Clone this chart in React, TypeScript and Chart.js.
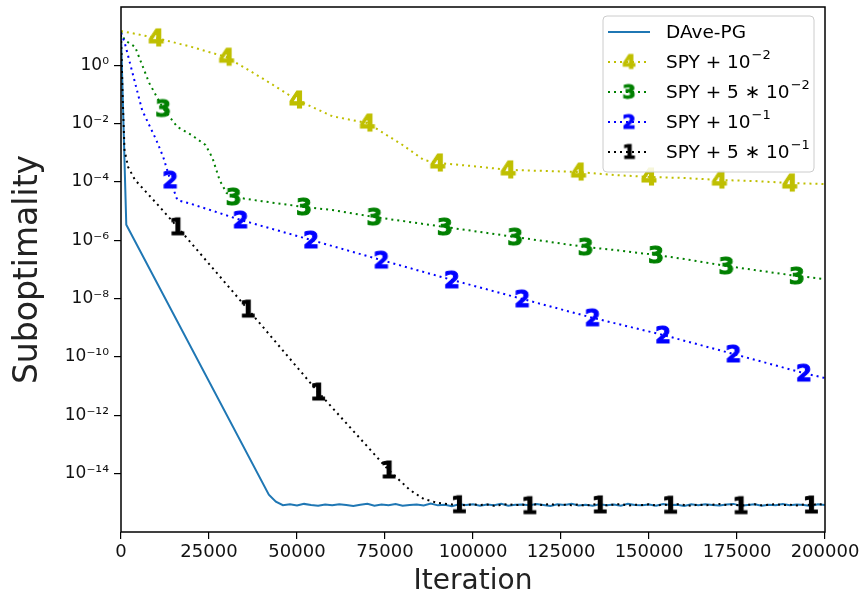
import React, { useEffect, useRef } from "react";
import { Chart, registerables } from "chart.js";
Chart.register(...registerables);

// ---------- data ----------
const xTicks = [0, 25000, 50000, 75000, 100000, 125000, 150000, 175000, 200000];
const yTickExps = [-14, -12, -10, -8, -6, -4, -2, 0];

const legendBase = ["DAve-PG", "SPY + 10", "SPY + 5 \u2217 10", "SPY + 10", "SPY + 5 \u2217 10"];
const legendSup = ["", "\u22122", "\u22122", "\u22121", "\u22121"];
const markerDigits = ["", "4", "3", "2", "1"];
const seriesColors = ["#1f77b4", "#bfbf00", "#008000", "#0000ff", "#000000"];

// DAve-PG
const daveIter = [0, 1500, 42000, 44000];
const daveVal = [11, 3.4e-6, 1.9e-15, 1.1e-15];
const daveFloorStart = 46000;
const floorStep = 2000;
const daveFloorE16 = [
  8.3, 8.9, 8.1, 9.2, 8.4, 7.9, 8.8, 8.2, 9.0, 8.5,
  7.8, 8.6, 9.3, 8.0, 8.7, 8.3, 9.1, 7.9, 8.5, 8.8,
  8.1, 9.4, 8.2, 8.6, 7.7, 8.9, 8.4, 9.0, 8.0, 8.7,
  8.3, 9.2, 7.9, 8.6, 8.8, 8.2, 9.1, 8.4, 7.8, 8.9,
  8.5, 9.3, 8.1, 8.6, 8.0, 9.0, 8.3, 8.7, 7.9, 9.2,
  8.5, 8.2, 8.8, 8.0, 9.1, 8.4, 8.6, 7.8, 8.9, 8.3,
  9.0, 8.5, 8.1, 8.7, 9.2, 8.0, 8.4, 8.9, 7.9, 8.6,
  8.3, 9.1, 8.2, 8.8, 8.5, 7.8, 9.0, 8.4,
];

// SPY + 1e-2  (marker "4")
const yelIter = [0, 10000, 20000, 30000, 40000, 50000, 60000, 70000, 80000, 86000, 90000,
  100000, 110000, 120000, 130000, 140000, 150000, 160000, 170000, 180000, 190000, 200000];
const yelVal = [15, 8.7, 4.3, 1.9, 0.37, 0.065, 0.018, 0.0105, 1.86e-3, 5.7e-4, 4.5e-4,
  3.5e-4, 2.6e-4, 2.4e-4, 2.2e-4, 1.74e-4, 1.49e-4, 1.37e-4, 1.17e-4, 1.08e-4, 9.2e-5, 8.5e-5];
const yelMarks = [10000, 30000, 50000, 70000, 90000, 110000, 130000, 150000, 170000, 190000];

// SPY + 5e-2 (marker "3")
const grnIter = [0, 1000, 4000, 8000, 12000, 16000, 20000, 24000, 26000, 28000, 30000, 32000,
  40000, 52000, 60000, 72000, 80000, 92000, 100000, 112000, 120000, 132000, 140000,
  152000, 160000, 172000, 180000, 192000, 200000];
const grnVal = [13.9, 7.4, 4.3, 0.25, 0.033, 7.7e-3, 4.1e-3, 1.86e-3, 6.6e-4, 1.17e-4, 4.2e-5, 3.06e-5,
  2.2e-5, 1.39e-5, 1.1e-5, 6.3e-6, 4.6e-6, 2.87e-6, 2.1e-6, 1.3e-6, 9.5e-7, 5.9e-7, 4.7e-7,
  3.15e-7, 2.3e-7, 1.32e-7, 9.6e-8, 6.0e-8, 4.7e-8];
const grnMarks = [12000, 32000, 52000, 72000, 92000, 112000, 132000, 152000, 172000, 192000];

// SPY + 1e-1 (marker "2")
const bluIter = [0, 1000, 4000, 6000, 10000, 12000, 14000, 16000, 20000, 34000, 54000, 74000,
  94000, 114000, 134000, 154000, 174000, 194000, 200000];
const bluVal = [12.9, 6.3, 0.25, 0.029, 2.8e-3, 7.2e-4, 1.17e-4, 2.4e-5, 1.77e-5, 5.0e-6, 1.03e-6,
  2.1e-7, 4.4e-8, 9.8e-9, 2.2e-9, 5.7e-10, 1.27e-10, 2.8e-11, 1.9e-11];
const bluMarks = [14000, 34000, 54000, 74000, 94000, 114000, 134000, 154000, 174000, 194000];

// SPY + 5e-1 (marker "1")
const blkIter = [0, 500, 1000, 2000, 4000, 10000, 16000, 36000, 56000, 76000, 82000, 86000, 90000, 94000];
const blkVal = [11, 0.065, 1.25e-3, 3.3e-4, 1.17e-4, 1.9e-5, 2.9e-6, 4.4e-9, 6.3e-12, 1.34e-14,
  2.8e-15, 1.36e-15, 9.9e-16, 8.8e-16];
const blkFloorStart = 96000;
const blkFloorE16 = [
  8.6, 8.2, 9.0, 8.4, 8.8, 7.9, 8.5, 9.1, 8.3, 8.7,
  8.0, 8.9, 8.4, 9.2, 8.1, 8.6, 8.3, 8.8, 7.9, 9.0,
  8.5, 8.2, 8.7, 9.1, 8.0, 8.6, 8.4, 8.9, 8.1, 8.7,
  8.3, 9.0, 8.5, 7.9, 8.8, 8.2, 8.6, 9.1, 8.4, 8.7,
  8.0, 8.5, 8.9, 8.2, 8.6, 9.0, 8.3, 8.7, 8.1, 8.8,
  8.4, 9.1, 8.5,
];
const blkMarks = [16000, 36000, 56000, 76000, 96000, 116000, 136000, 156000, 176000, 196000];

// ---------- helpers ----------
const FONT = '"DejaVu Sans", "Liberation Sans", sans-serif';
const DOTS = [2, 4];
const SUP: Record<string, string> = {
  "-": "\u207B", "0": "\u2070", "1": "\u00B9", "2": "\u00B2", "3": "\u00B3",
  "4": "\u2074", "5": "\u2075", "6": "\u2076", "7": "\u2077", "8": "\u2078", "9": "\u2079",
};
const toSup = (s: string) => s.split("").map((c) => SUP[c] ?? c).join("");

function pts(iters: number[], vals: number[]) {
  return iters.map((x, i) => ({ x, y: vals[i] }));
}
function floorPts(start: number, valsE16: number[]) {
  return valsE16.map((v, i) => ({ x: start + i * floorStep, y: v * 1e-16 }));
}

function makeDigit(d: string, color: string, fs: number) {
  const c = document.createElement("canvas");
  const s = Math.ceil(fs * 1.2);
  c.width = s;
  c.height = s;
  const g = c.getContext("2d")!;
  g.font = `bold ${fs}px ${FONT}`;
  g.textAlign = "center";
  g.textBaseline = "alphabetic";
  g.fillStyle = color;
  g.strokeStyle = color;
  g.lineWidth = 1;
  g.fillText(d, s / 2, s / 2 + fs * 0.364);
  g.strokeText(d, s / 2, s / 2 + fs * 0.364);
  return c;
}

const framePlugin = {
  id: "frame",
  afterDatasetsDraw(chart: any) {
    const { ctx, chartArea: a } = chart;
    ctx.save();
    ctx.strokeStyle = "#000";
    ctx.lineWidth = 1.5;
    ctx.strokeRect(a.left, a.top, a.right - a.left, a.bottom - a.top);
    ctx.restore();
  },
};

export default function App() {
  const ref = useRef<HTMLCanvasElement>(null);
  useEffect(() => {
    document.body.style.margin = "0";
    const markerCanvases = seriesColors.map((c, i) => (markerDigits[i] ? makeDigit(markerDigits[i], c, 23) : null));
    const legendMarkers = seriesColors.map((c, i) => (markerDigits[i] ? makeDigit(markerDigits[i], c, 19) : null));

    const legendPlugin = {
      id: "customLegend",
      afterDraw(chart: any) {
        const ctx = chart.ctx;
        ctx.save();
        const bx = 603, by = 16, bw = 211, bh = 156;
        ctx.beginPath();
        ctx.roundRect(bx, by, bw, bh, 4);
        ctx.fillStyle = "rgba(255,255,255,0.85)";
        ctx.fill();
        ctx.strokeStyle = "#cccccc";
        ctx.lineWidth = 1;
        ctx.stroke();
        legendBase.forEach((base, i) => {
          const cy = 32 + i * 30;
          ctx.strokeStyle = seriesColors[i];
          ctx.lineWidth = 2;
          ctx.setLineDash(i === 0 ? [] : DOTS);
          ctx.beginPath();
          ctx.moveTo(608, cy);
          ctx.lineTo(650, cy);
          ctx.stroke();
          ctx.setLineDash([]);
          const m = legendMarkers[i];
          if (m) ctx.drawImage(m, 629 - m.width / 2, cy - m.height / 2);
          ctx.fillStyle = "#000";
          ctx.font = `18.5px ${FONT}`;
          ctx.textBaseline = "middle";
          ctx.textAlign = "left";
          ctx.fillText(base, 666, cy + 1);
          const w = ctx.measureText(base).width;
          if (legendSup[i]) {
            ctx.font = `13px ${FONT}`;
            ctx.fillText(legendSup[i], 666 + w + 1, cy - 6);
          }
        });
        ctx.restore();
      },
    };

    const mk = (idx: number, data: any[], marks: number[], order: number) => ({
      label: legendBase[idx] + toSup(legendSup[idx]),
      data,
      borderColor: seriesColors[idx],
      backgroundColor: seriesColors[idx],
      borderWidth: 2,
      borderDash: DOTS,
      pointStyle: markerCanvases[idx],
      pointRadius: (c: any) => (c.raw && marks.includes(c.raw.x) ? 8 : 0),
      pointHoverRadius: 0,
      fill: false,
      tension: 0,
      order,
    });

    const chart = new Chart(ref.current!, {
      type: "line",
      data: {
        datasets: [
          {
            label: legendBase[0],
            data: [...pts(daveIter, daveVal), ...floorPts(daveFloorStart, daveFloorE16)],
            borderColor: seriesColors[0],
            backgroundColor: seriesColors[0],
            borderWidth: 2,
            pointRadius: 0,
            fill: false,
            tension: 0,
            order: 5,
          } as any,
          mk(1, pts(yelIter, yelVal), yelMarks, 4),
          mk(2, pts(grnIter, grnVal), grnMarks, 3),
          mk(3, pts(bluIter, bluVal), bluMarks, 2),
          mk(4, [...pts(blkIter, blkVal), ...floorPts(blkFloorStart, blkFloorE16)], blkMarks, 1),
        ],
      },
      options: {
        responsive: false,
        animation: false,
        devicePixelRatio: 1,
        layout: { padding: { top: 7, right: 39, left: 0, bottom: 0 } },
        plugins: { legend: { display: false }, tooltip: { enabled: false } },
        scales: {
          x: {
            type: "linear",
            min: 0,
            max: 200000,
            afterBuildTicks: (axis: any) => {
              axis.ticks = xTicks.map((v) => ({ value: v }));
            },
            afterFit: (s: any) => {
              s.height = 68;
              s.paddingLeft = 0;
              s.paddingRight = 0;
            },
            ticks: {
              autoSkip: false,
              maxRotation: 0,
              padding: 3,
              color: "#111",
              font: { family: FONT, size: 18 },
              callback: (v: any) => String(v),
            },
            grid: { display: true, drawOnChartArea: false, drawTicks: true, tickLength: 7, color: "#000", lineWidth: 1.2 },
            border: { display: false },
            title: {
              display: true,
              text: "Iteration",
              color: "#222",
              font: { family: FONT, size: 28 },
              padding: { top: 0, bottom: 1 },
            },
          },
          y: {
            type: "logarithmic",
            min: 1e-16,
            max: 1e2,
            afterBuildTicks: (axis: any) => {
              axis.ticks = yTickExps.map((e) => ({ value: Math.pow(10, e) }));
            },
            afterFit: (s: any) => {
              s.width = 121;
              s.paddingTop = 0;
              s.paddingBottom = 0;
            },
            ticks: {
              autoSkip: false,
              padding: 5,
              color: "#111",
              font: { family: FONT, size: 17 },
              callback: (v: any) => "10" + toSup(String(Math.round(Math.log10(v)))),
            },
            grid: { display: true, drawOnChartArea: false, drawTicks: true, tickLength: 7, color: "#000", lineWidth: 1.2 },
            border: { display: false },
            title: {
              display: true,
              text: "Suboptimality",
              color: "#222",
              font: { family: FONT, size: 33 },
              padding: { top: 9, bottom: 0 },
            },
          },
        },
      },
      plugins: [framePlugin, legendPlugin],
    } as any);
    return () => chart.destroy();
  }, []);
  return (
    <div style={{ width: 864, height: 600 }}>
      <canvas ref={ref} width={864} height={600} />
    </div>
  );
}
